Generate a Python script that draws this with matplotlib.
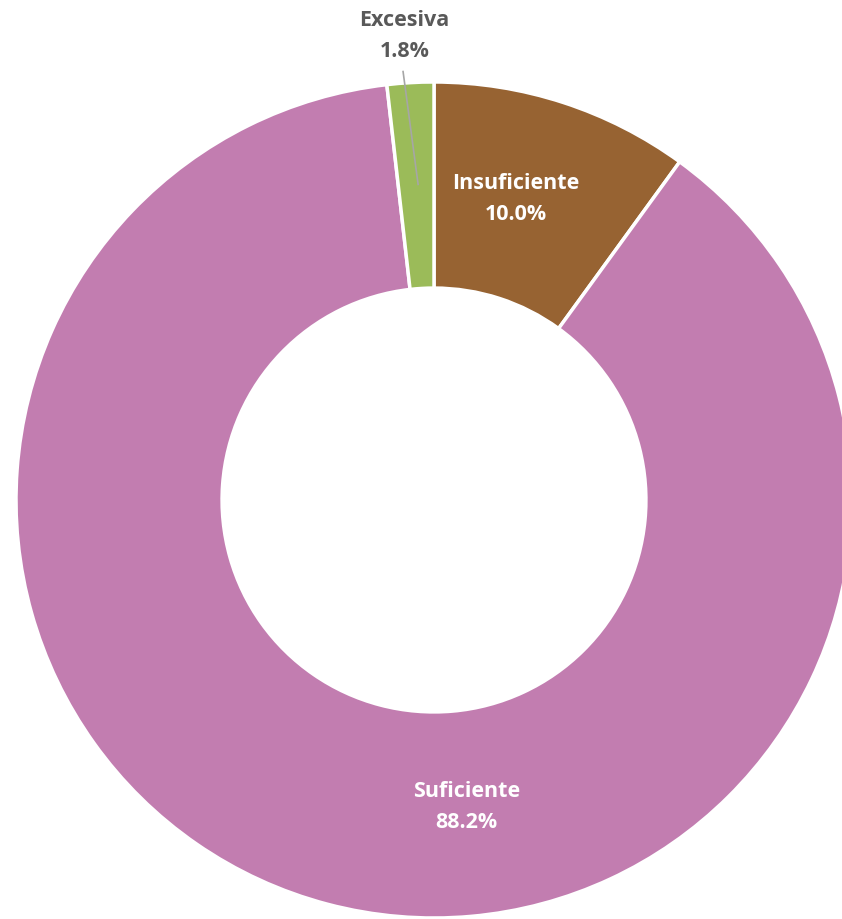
import matplotlib
matplotlib.use("Agg")
import matplotlib.pyplot as plt

categories = ["Insuficiente", "Suficiente", "Excesiva"]
values = [10.0, 88.2, 1.8]
colors = ["#976332", "#C27DB0", "#9BBB59"]

W, H = 842, 919
fig = plt.figure(figsize=(W / 100, H / 100), dpi=100)
cx, cy, R = 434, 500, 418
ax = fig.add_axes([(cx - R) / W, (H - cy - R) / H, 2 * R / W, 2 * R / H])

ax.pie(values, colors=colors, startangle=90, counterclock=False, radius=1.0,
       wedgeprops=dict(width=0.493, edgecolor="white", linewidth=2.5))
ax.set_xlim(-1, 1)
ax.set_ylim(-1, 1)
ax.set_aspect("equal")
ax.axis("off")

font = ["Open Sans", "DejaVu Sans"]
labels = [f"{c}\n{v:.1f}%" for c, v in zip(categories, values)]
# label positions in data units (relative to pie centre, radius = 1)
label_pos = [(0.195, 0.72), (0.077, -0.735), (-0.07, 1.11)]
label_colors = ["white", "white", "#595959"]
for lab, (x, y), col in zip(labels, label_pos, label_colors):
    ax.text(x, y, lab, ha="center", va="center", color=col, fontsize=15.5,
            fontweight="bold", family=font, linespacing=1.6, clip_on=False)

ax.plot([-0.074, -0.038], [1.025, 0.755], color="#A6A6A6", lw=1.2, clip_on=False)

fig.savefig("out.png", dpi=100)
